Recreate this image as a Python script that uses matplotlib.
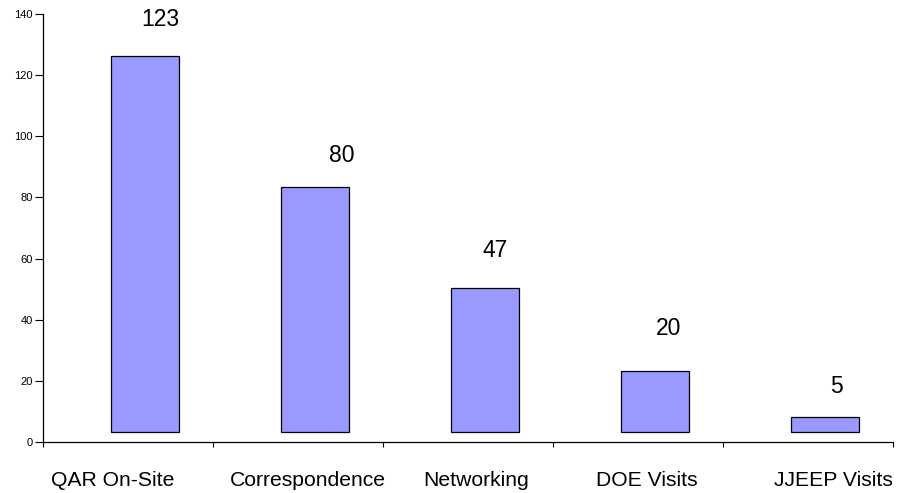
import matplotlib.pyplot as plt
import numpy as np

plt.rcParams['font.family'] = ['Liberation Sans', 'DejaVu Sans']

categories = ['QAR On-Site', 'Correspondence', 'Networking', 'DOE Visits', 'JJEEP Visits']
counts = [123, 80, 47, 20, 5]
y_ticks = [0, 20, 40, 60, 80, 100, 120, 140]

BAR_COLOR = '#9999FF'
BAR_WIDTH = 0.4
# bars sit slightly up and to the right of their slot (depth offset)
DEPTH_X = 0.1
DEPTH_Y = 3.3
# per-label nudges in points (dx, dy) above each bar top
LABEL_NUDGE = [(11, 26), (19, 23), (7, 27), (10, 30.5), (8, 22)]
# horizontal shift of each category name inside its slot (axis units)
NAME_SHIFT = [-0.09, 0.06, 0.05, 0.05, 0.15]

fig = plt.figure(figsize=(8.98, 4.93), dpi=100)
ax = fig.add_axes([43 / 898, 1 - 442 / 493, 850 / 898, 428 / 493])

x = np.arange(len(categories)) + 0.5
ax.bar(x + DEPTH_X, counts, bottom=DEPTH_Y, width=BAR_WIDTH,
       color=BAR_COLOR, edgecolor='black', linewidth=0.9, zorder=2)

for xi, v, (dx, dy) in zip(x, counts, LABEL_NUDGE):
    ax.annotate(str(v), (xi + DEPTH_X, v + DEPTH_Y), xytext=(dx, dy),
                textcoords='offset points', ha='center', va='center',
                fontsize=16.5, color='black')

ax.set_xlim(0, len(categories))
ax.set_ylim(0, 140)
ax.set_yticks(y_ticks)
ax.tick_params(axis='y', direction='out', length=5.8, width=0.8,
               labelsize=8, pad=1.5)

ax.set_xticks(np.arange(len(categories) + 1))
ax.set_xticklabels([])
ax.tick_params(axis='x', which='major', direction='out', length=3.6, width=0.8)
ax.set_xticks(x + np.array(NAME_SHIFT), minor=True)
ax.set_xticklabels(categories, minor=True, fontsize=15.2)
ax.tick_params(axis='x', which='minor', length=0, pad=21)

for side in ['top', 'right']:
    ax.spines[side].set_visible(False)
for side in ['left', 'bottom']:
    ax.spines[side].set_linewidth(0.9)

fig.savefig('out.png', dpi=100)
